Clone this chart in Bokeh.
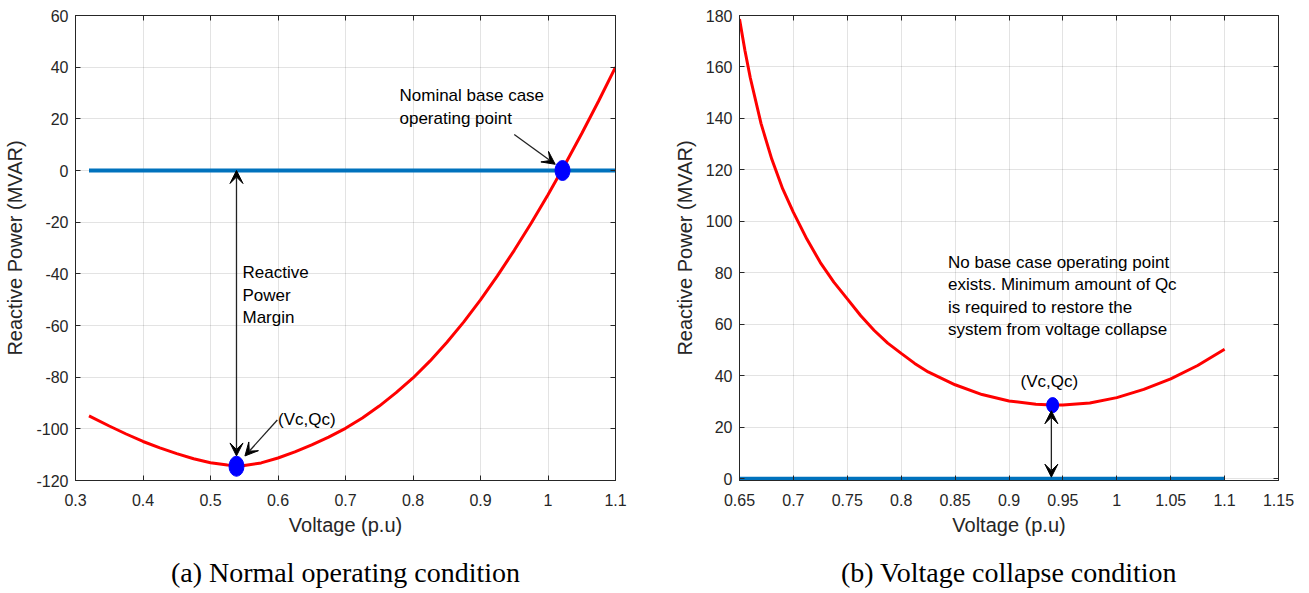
from bokeh.plotting import figure
from bokeh.models import (Range1d, FixedTicker, CustomJSTickFormatter, LinearAxis,
                          Label, Arrow, VeeHead, Title)
from bokeh.layouts import row
from bokeh.embed import file_html
from bokeh.resources import INLINE

# ---------------- data ----------------
# (a) Normal operating condition
normal_v = [0.32, 0.35, 0.375, 0.40, 0.425, 0.45, 0.475, 0.50, 0.525, 0.55, 0.575,
            0.60, 0.625, 0.65, 0.675, 0.70, 0.725, 0.75, 0.775, 0.80, 0.825, 0.85,
            0.875, 0.90, 0.925, 0.95, 0.975, 1.00, 1.025, 1.05, 1.075, 1.10]
normal_q = [-95.0, -98.9, -102.0, -104.9, -107.4, -109.6, -111.6, -113.1, -114.0, -114.2,
            -113.2, -111.3, -108.9, -106.2, -103.2, -99.8, -95.8, -91.2, -86.0, -80.3,
            -73.8, -66.6, -58.7, -50.1, -40.8, -30.9, -20.4, -9.4, 2.2, 14.3, 26.9, 40.0]
normal_base_v = [0.32, 1.10]
normal_base_q = [0.0, 0.0]
normal_crit_v, normal_crit_q = 0.5385, -114.5      # (Vc, Qc)
normal_op_v, normal_op_q = 1.0215, 0.0             # nominal base case operating point

# (b) Voltage collapse condition
collapse_v = [0.65, 0.655, 0.66, 0.67, 0.68, 0.69, 0.70, 0.7125, 0.725, 0.7375, 0.75,
              0.7625, 0.775, 0.7875, 0.80, 0.8125, 0.825, 0.85, 0.875, 0.90, 0.925,
              0.94, 0.95, 0.975, 1.00, 1.025, 1.05, 1.075, 1.10]
collapse_q = [178.6, 166.5, 155.8, 138.0, 124.1, 112.7, 103.5, 93.1, 84.0, 76.4, 69.9,
              63.3, 57.6, 52.7, 48.7, 44.8, 41.5, 36.5, 32.7, 30.2, 28.9,
              28.6, 28.6, 29.4, 31.5, 34.7, 38.8, 44.0, 50.3]
collapse_base_v = [0.65, 1.10]
collapse_base_q = [0.0, 0.0]
collapse_crit_v, collapse_crit_q = 0.9405, 28.6

# ticks
normal_xticks = [0.3, 0.4, 0.5, 0.6, 0.7, 0.8, 0.9, 1.0, 1.1]
normal_yticks = [-120, -100, -80, -60, -40, -20, 0, 20, 40, 60]
collapse_xticks = [0.65, 0.7, 0.75, 0.8, 0.85, 0.9, 0.95, 1.0, 1.05, 1.1, 1.15]
collapse_yticks = [0, 20, 40, 60, 80, 100, 120, 140, 160, 180]

x_label = "Voltage (p.u)"
y_label = "Reactive Power (MVAR)"
caption_a = "(a) Normal operating condition"
caption_b = "(b) Voltage collapse condition"

# ---------------- styling ----------------
SANS = "Liberation Sans"
SERIF = "Liberation Serif"
AX = "#262626"
RED = "#FF0000"
BLUE_LINE = "#0072BD"
BLUE_PT = "#0000FF"
ARROW_C = "#222222"
FMT = "return String(parseFloat(tick.toFixed(4)));"
FRAME_H = 465


def make_fig(xr, yr, xt, yt, fw, bl, br, caption):
    p = figure(frame_width=fw, frame_height=FRAME_H,
               x_range=Range1d(*xr), y_range=Range1d(*yr),
               output_backend="svg", toolbar_location=None, title=None,
               min_border_left=bl, min_border_right=br, min_border_top=15,
               min_border_bottom=112, background_fill_color="white",
               border_fill_color="white")
    p.outline_line_color = AX
    p.outline_line_width = 1
    for ax, ticks in ((p.xaxis[0], xt), (p.yaxis[0], yt)):
        ax.ticker = FixedTicker(ticks=ticks)
        ax.formatter = CustomJSTickFormatter(code=FMT)
        ax.major_tick_in = 5
        ax.major_tick_out = 0
        ax.minor_tick_line_color = None
        ax.axis_line_color = AX
        ax.major_tick_line_color = AX
        ax.major_label_text_font = SANS
        ax.major_label_text_font_size = "16px"
        ax.major_label_text_color = AX
        ax.axis_label_text_font = SANS
        ax.axis_label_text_font_size = "20px"
        ax.axis_label_text_font_style = "normal"
        ax.axis_label_text_color = AX
    p.xaxis.axis_label = x_label
    p.yaxis.axis_label = y_label
    p.xaxis.major_label_standoff = 13
    p.xaxis.axis_label_standoff = 5
    p.yaxis.major_label_standoff = 7
    p.yaxis.axis_label_standoff = 7
    for loc, ticks in (("above", xt), ("right", yt)):
        a = LinearAxis(ticker=FixedTicker(ticks=ticks),
                       formatter=CustomJSTickFormatter(code="return '';"),
                       major_tick_in=5, major_tick_out=0, minor_tick_line_color=None,
                       axis_line_color=AX, major_tick_line_color=AX,
                       major_label_standoff=0, major_label_text_font_size="1px")
        p.add_layout(a, loc)
    p.xgrid.ticker = FixedTicker(ticks=xt)
    p.ygrid.ticker = FixedTicker(ticks=yt)
    p.grid.grid_line_color = AX
    p.grid.grid_line_alpha = 0.13
    p.add_layout(Title(text=caption, align="center", text_font=SERIF,
                       text_font_size="28px", text_font_style="normal",
                       text_color="black", standoff=33), "below")
    return p


def note(p, x, y, text, align="left", baseline="middle"):
    p.add_layout(Label(x=x, y=y, text=text, text_font=SANS, text_font_size="17px",
                       text_color="black", text_align=align, text_baseline=baseline,
                       text_line_height=1.18))


def arrow(p, x0, y0, x1, y1, both=False):
    head = dict(size=13, fill_color="black", line_color="black", line_width=1)
    p.add_layout(Arrow(x_start=x0, y_start=y0, x_end=x1, y_end=y1,
                       end=VeeHead(**head), start=VeeHead(**head) if both else None,
                       line_color=ARROW_C, line_width=1.3))


# ---------------- (a) ----------------
p1 = make_fig((0.3, 1.1), (-120, 60), normal_xticks, normal_yticks, 540, 75, 50, caption_a)
p1.line(normal_base_v, normal_base_q, line_color=BLUE_LINE, line_width=4)
p1.line(normal_v, normal_q, line_color=RED, line_width=3)
arrow(p1, normal_crit_v, normal_crit_q + 4.0, normal_crit_v, normal_base_q[0], both=True)
arrow(p1, 0.599, -96.6, 0.551, -110.5)
arrow(p1, 0.950, 13.9, 1.0107, 2.4)
p1.ellipse([normal_crit_v, normal_op_v], [normal_crit_q, normal_op_q], width=15, height=20,
           width_units="screen", height_units="screen", fill_color=BLUE_PT, line_color=BLUE_PT)
note(p1, 0.5474, -48.2, "Reactive\nPower\nMargin")
note(p1, 0.600, -96.4, "(Vc,Qc)")
note(p1, 0.780, 24.6, "Nominal base case\noperating point")

# ---------------- (b) ----------------
# y range starts a hair below 0 so the thick Q=0 line is not half clipped
p2 = make_fig((0.65, 1.15), (-0.7, 180), collapse_xticks, collapse_yticks, 539, 74, 25, caption_b)
p2.line(collapse_base_v, collapse_base_q, line_color=BLUE_LINE, line_width=4)
p2.line(collapse_v, collapse_q, line_color=RED, line_width=3)
arrow(p2, collapse_crit_v - 0.0012, collapse_crit_q - 2.2, collapse_crit_v - 0.0012,
      collapse_base_q[0] + 0.6, both=True)
p2.ellipse([collapse_crit_v], [collapse_crit_q], width=12, height=15,
           width_units="screen", height_units="screen", fill_color=BLUE_PT, line_color=BLUE_PT)
note(p2, 0.9374, 37.6, "(Vc,Qc)", align="center")
note(p2, 0.8434, 71.0, "No base case operating point\nexists. Minimum amount of Qc\n"
                        "is required to restore the\nsystem from voltage collapse")

layout = row(p1, p2)
open("out.html", "w").write(file_html(layout, INLINE))
